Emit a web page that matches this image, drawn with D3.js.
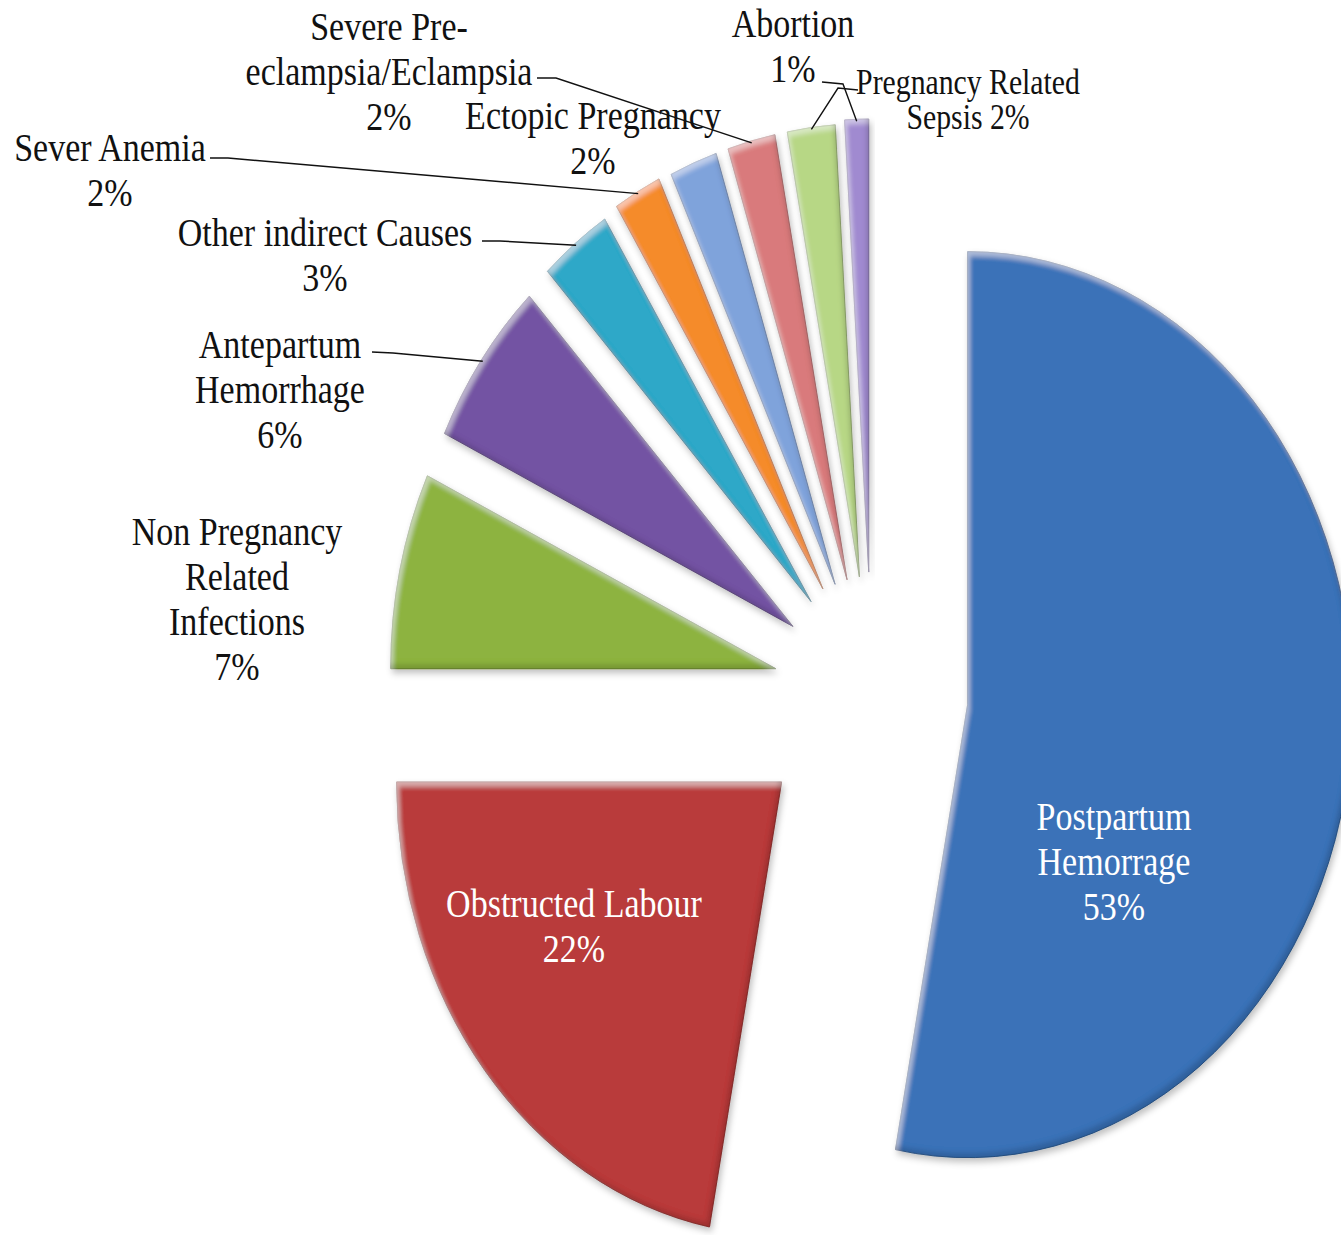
<!DOCTYPE html>
<html>
<head>
<meta charset="utf-8">
<script src="https://cdn.jsdelivr.net/npm/d3@7"></script>
<style>
  html, body { margin: 0; padding: 0; background: #fff; }
  svg { display: block; }
</style>
</head>
<body>
<svg id="chart" width="1341" height="1235"></svg>
<script>
// ---- data ----
const categories = [
  "Postpartum Hemorrage", "Obstructed Labour", "Non Pregnancy Related Infections",
  "Antepartum Hemorrhage", "Other indirect Causes", "Sever Anemia",
  "Ectopic Pregnancy", "Severe Pre-eclampsia/Eclampsia", "Pregnancy Related Sepsis", "Abortion"
];
const values = [53, 22, 7, 6, 3, 2, 2, 2, 2, 1];
const labelLines = [
  ["Postpartum", "Hemorrage", "{p}"],
  ["Obstructed Labour", "{p}"],
  ["Non Pregnancy", "Related", "Infections", "{p}"],
  ["Antepartum", "Hemorrhage", "{p}"],
  ["Other indirect Causes", "{p}"],
  ["Sever Anemia", "{p}"],
  ["Ectopic Pregnancy", "{p}"],
  ["Severe Pre-", "eclampsia/Eclampsia", "{p}"],
  ["Pregnancy Related", "Sepsis {p}"],
  ["Abortion", "{p}"]
];

// ---- styles / layout ----
const colors = ["#3a72b8", "#b93b3a", "#8db33f", "#7352a3", "#2ea8c8", "#f58b2b",
                "#7fa3db", "#d97a7c", "#b7d785", "#a08ad0"];
const cx = 872, cy = 694, R = 453, SX = 0.85;
const explode = [113, 138, 116, 115, 117, 120, 118, 118, 118, 122];
const labelLayout = [
  {x: 1114, y: 830, fs: 40, lh: 45, fill: "#fff"},
  {x: 574,  y: 917, fs: 40, lh: 45, fill: "#fff"},
  {x: 237,  y: 545, fs: 40, lh: 45, fill: "#111"},
  {x: 280,  y: 358, fs: 40, lh: 45, fill: "#111"},
  {x: 325,  y: 246, fs: 40, lh: 45, fill: "#111"},
  {x: 110,  y: 161, fs: 40, lh: 45, fill: "#111"},
  {x: 593,  y: 129, fs: 40, lh: 45, fill: "#111"},
  {x: 389,  y: 40,  fs: 40, lh: 45, fill: "#111"},
  {x: 968,  y: 94,  fs: 35, lh: 35, fill: "#111"},
  {x: 793,  y: 37,  fs: 40, lh: 45, fill: "#111"}
];
const leaderStart = {
  7: [[537, 78], [556, 78]],
  5: [[210, 158], [228, 158]],
  4: [[482, 241], [500, 241]],
  3: [[372, 352], [393, 353]],
  9: [[822, 82], [843, 84]],
  8: [[858, 90], [838, 88]]
};

const svg = d3.select("#chart");
const defs = svg.append("defs");
const f = defs.append("filter").attr("id", "bevel")
  .attr("x", "-15%").attr("y", "-15%").attr("width", "140%").attr("height", "140%");
f.append("feGaussianBlur").attr("in", "SourceAlpha").attr("stdDeviation", 3.5).attr("result", "sblur");
f.append("feOffset").attr("in", "sblur").attr("dx", 2).attr("dy", 4).attr("result", "soff");
f.append("feFlood").attr("flood-color", "#000").attr("flood-opacity", 0.25).attr("result", "sflood");
f.append("feComposite").attr("in", "sflood").attr("in2", "soff").attr("operator", "in").attr("result", "shadow");
f.append("feGaussianBlur").attr("in", "SourceAlpha").attr("stdDeviation", 2.5).attr("result", "ib");
f.append("feOffset").attr("in", "ib").attr("dx", 3).attr("dy", 5).attr("result", "ibo1");
f.append("feComposite").attr("in", "SourceAlpha").attr("in2", "ibo1").attr("operator", "out").attr("result", "edgeTL");
f.append("feFlood").attr("flood-color", "#fff").attr("flood-opacity", 0.4).attr("result", "wflood");
f.append("feComposite").attr("in", "wflood").attr("in2", "edgeTL").attr("operator", "in").attr("result", "hl");
f.append("feOffset").attr("in", "ib").attr("dx", -3).attr("dy", -5).attr("result", "ibo2");
f.append("feComposite").attr("in", "SourceAlpha").attr("in2", "ibo2").attr("operator", "out").attr("result", "edgeBR");
f.append("feFlood").attr("flood-color", "#000").attr("flood-opacity", 0.3).attr("result", "kflood");
f.append("feComposite").attr("in", "kflood").attr("in2", "edgeBR").attr("operator", "in").attr("result", "dk");
const m = f.append("feMerge");
["shadow", "SourceGraphic", "hl", "dk"].forEach(n => m.append("feMergeNode").attr("in", n));

const pie = d3.pie().sort(null).value(d => d).startAngle(0).endAngle(2 * Math.PI);
const arcs = pie(values);
const arc = d3.arc().innerRadius(0).outerRadius(R);
const mid = a => (a.startAngle + a.endAngle) / 2;

const pieG = svg.append("g").attr("transform", `translate(${cx},${cy}) scale(${SX},1)`);
pieG.selectAll("path.slice").data(arcs).enter().append("path")
  .attr("class", "slice")
  .attr("transform", (a, i) => `translate(${explode[i] * Math.sin(mid(a))},${-explode[i] * Math.cos(mid(a))})`)
  .attr("d", arc)
  .attr("fill", (a, i) => colors[i])
  .attr("stroke", (a, i) => d3.color(colors[i]).darker(0.7))
  .attr("stroke-width", 1)
  .attr("filter", "url(#bevel)");

// leader lines
const lineG = svg.append("g");
Object.keys(leaderStart).forEach(k => {
  const i = +k, a = arcs[i], r = explode[i] + R - 2;
  const end = [cx + SX * r * Math.sin(mid(a)), cy - r * Math.cos(mid(a))];
  const pts = leaderStart[i].concat([end]);
  lineG.append("path")
    .attr("d", d3.line()(pts))
    .attr("fill", "none").attr("stroke", "#111").attr("stroke-width", 1.4);
});

// labels
const labG = svg.append("g");
labelLines.forEach((lines, i) => {
  const L = labelLayout[i];
  const g = labG.append("g").attr("transform", `translate(${L.x},${L.y}) scale(${SX},1)`);
  const t = g.append("text")
    .attr("text-anchor", "middle")
    .attr("font-family", "'Liberation Serif', 'Times New Roman', serif")
    .attr("font-size", L.fs)
    .attr("fill", L.fill);
  lines.forEach((ln, j) => {
    t.append("tspan").attr("x", 0).attr("y", j * L.lh).text(ln.replace("{p}", values[i] + "%"));
  });
});
</script>
</body>
</html>
